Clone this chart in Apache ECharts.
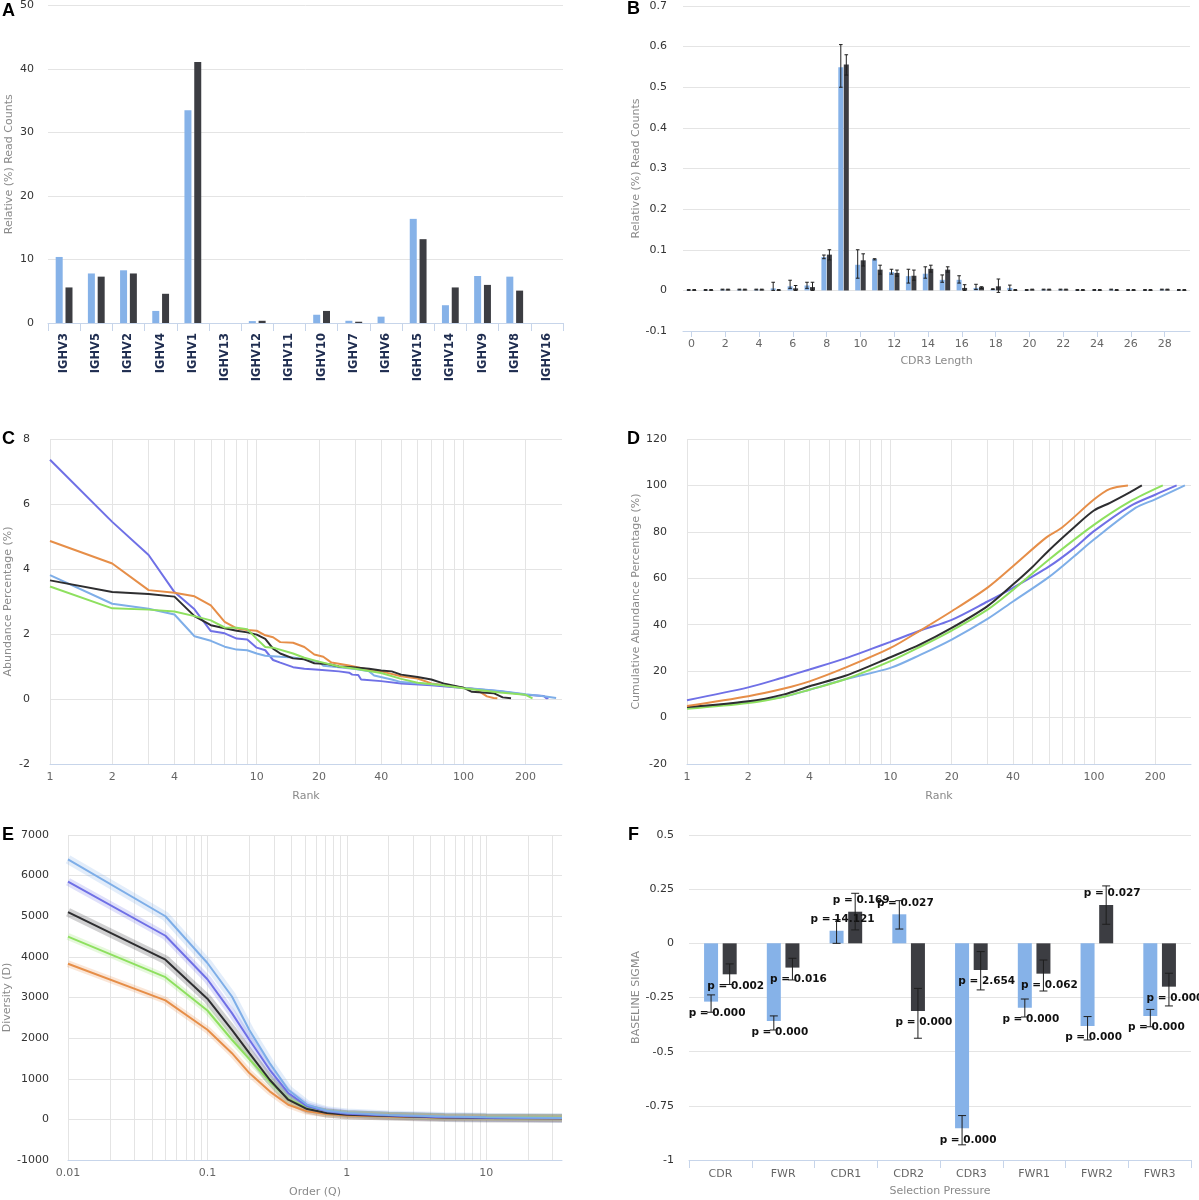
<!DOCTYPE html>
<html>
<head>
<meta charset="utf-8">
<title>Repertoire panels</title>
<script src="https://cdn.jsdelivr.net/npm/echarts@6/dist/echarts.min.js"></script>
<style>html,body{margin:0;padding:0;background:#fff}</style>
</head>
<body>
<div id="main" style="width:1199px;height:1200px;"></div>
<script>
var FONT = '"DejaVu Sans", sans-serif';
var BLUE = '#86b2e8', DARK = '#3c3d42';
var VIOLET = '#6f70e6', ORANGE = '#e68e48', LBLUE = '#7eaee8', BLACK = '#2e2e30', GREEN = '#8ee05f';
var AXIS_BLUE = '#c7d5ea', GRID = '#e4e4e4';

// ---- A: IGHV usage
var genesA = ['IGHV3', 'IGHV5', 'IGHV2', 'IGHV4', 'IGHV1', 'IGHV13', 'IGHV12', 'IGHV11',
    'IGHV10', 'IGHV7', 'IGHV6', 'IGHV15', 'IGHV14', 'IGHV9', 'IGHV8', 'IGHV16'];
var blueA = [10.4, 7.8, 8.3, 1.9, 33.5, 0, 0.3, 0, 1.3, 0.35, 1.0, 16.4, 2.8, 7.4, 7.3, 0];
var darkA = [5.6, 7.3, 7.8, 4.6, 41.1, 0, 0.35, 0, 1.9, 0.2, 0, 13.2, 5.6, 6.0, 5.1, 0];

// ---- B: CDR3 length
var lengthsB = ['0', '1', '2', '3', '4', '5', '6', '7', '8', '9', '10', '11', '12', '13', '14',
    '15', '16', '17', '18', '19', '20', '21', '22', '23', '24', '25', '26', '27', '28', '29'];
var blueB = [0.001, 0.001, 0.002, 0.002, 0.002, 0.005, 0.010, 0.012, 0.082, 0.549, 0.063, 0.077, 0.045, 0.035, 0.041,
    0.026, 0.026, 0.006, 0.003, 0.006, 0.001, 0.002, 0.002, 0.001, 0.001, 0.002, 0.001, 0.001, 0.002, 0.001];
var blueBLow = [0, 0, 0.001, 0.001, 0.001, 0.000, 0.005, 0.005, 0.078, 0.500, 0.030, 0.075, 0.040, 0.018, 0.030,
    0.020, 0.018, 0.002, 0.002, 0.000, 0, 0.001, 0.001, 0, 0, 0.001, 0, 0, 0.001, 0];
var blueBHigh = [0.002, 0.002, 0.003, 0.003, 0.003, 0.020, 0.025, 0.020, 0.087, 0.605, 0.100, 0.078, 0.052, 0.052, 0.058,
    0.038, 0.036, 0.015, 0.004, 0.013, 0.002, 0.003, 0.003, 0.002, 0.002, 0.003, 0.002, 0.002, 0.003, 0.002];
var darkB = [0.001, 0.001, 0.002, 0.002, 0.002, 0.001, 0.005, 0.008, 0.088, 0.556, 0.074, 0.051, 0.043, 0.036, 0.053,
    0.051, 0.006, 0.008, 0.010, 0.001, 0.002, 0.002, 0.002, 0.001, 0.001, 0.001, 0.001, 0.001, 0.002, 0.001];
var darkBLow = [0, 0, 0.001, 0.001, 0.001, 0, 0, 0, 0.075, 0.530, 0.060, 0.040, 0.035, 0.025, 0.045,
    0.045, 0, 0.005, -0.005, 0, 0.001, 0.001, 0.001, 0, 0, 0, 0, 0, 0.001, 0];
var darkBHigh = [0.002, 0.002, 0.003, 0.003, 0.003, 0.002, 0.012, 0.020, 0.100, 0.580, 0.090, 0.062, 0.050, 0.050, 0.062,
    0.058, 0.014, 0.009, 0.028, 0.002, 0.003, 0.003, 0.003, 0.002, 0.002, 0.002, 0.002, 0.002, 0.003, 0.002];

// ---- C: abundance by rank  [rank, %]
var violetC = [[1, 7.36], [2, 5.45], [3, 4.43], [4, 3.29], [5, 2.76], [6, 2.09], [7, 2.02], [8, 1.86], [9, 1.83], [10, 1.58],
    [11, 1.5], [12, 1.2], [13, 1.12], [15, 0.98], [17, 0.93], [20, 0.9], [25, 0.85], [28, 0.81], [29, 0.75], [31, 0.74],
    [32, 0.6], [40, 0.55], [50, 0.48], [70, 0.42], [100, 0.34], [150, 0.24], [200, 0.13], [245, 0.09], [252, 0.02], [258, 0.03]];
var orangeC = [[1, 4.86], [2, 4.17], [3, 3.35], [4, 3.27], [5, 3.16], [6, 2.88], [7, 2.37], [8, 2.17], [9, 2.12], [10, 2.1],
    [11, 1.96], [12, 1.9], [13, 1.75], [15, 1.73], [17, 1.6], [19, 1.37], [21, 1.3], [23, 1.12], [28, 1.03], [35, 0.9],
    [40, 0.85], [50, 0.7], [60, 0.63], [70, 0.48], [100, 0.35], [115, 0.3], [130, 0.08], [140, 0.03], [146, 0.02]];
var lblueC = [[1, 3.81], [2, 2.93], [3, 2.78], [4, 2.6], [5, 1.93], [6, 1.79], [7, 1.61], [8, 1.52], [9, 1.5], [10, 1.4],
    [11, 1.33], [13, 1.3], [15, 1.28], [20, 1.15], [21, 1.02], [25, 0.98], [30, 0.92], [35, 0.85], [37, 0.72], [45, 0.6],
    [50, 0.52], [80, 0.42], [100, 0.35], [150, 0.25], [200, 0.15], [250, 0.08], [281, 0.03]];
var blackC = [[1, 3.65], [2, 3.29], [3, 3.23], [4, 3.15], [5, 2.55], [6, 2.27], [7, 2.18], [8, 2.1], [9, 2.05], [10, 1.98],
    [11, 1.85], [12, 1.55], [13, 1.4], [15, 1.25], [17, 1.22], [19, 1.1], [22, 1.08], [25, 1.0], [30, 0.97], [35, 0.93],
    [40, 0.88], [45, 0.85], [50, 0.75], [60, 0.68], [70, 0.6], [80, 0.48], [100, 0.35], [110, 0.22], [140, 0.18], [155, 0.05], [170, 0.02]];
var greenC = [[1, 3.46], [2, 2.79], [3, 2.75], [4, 2.69], [5, 2.55], [6, 2.42], [7, 2.2], [8, 2.19], [9, 2.15], [10, 1.85],
    [11, 1.6], [12, 1.58], [15, 1.4], [17, 1.27], [20, 1.15], [25, 1.0], [30, 0.93], [40, 0.8], [50, 0.62], [60, 0.5],
    [80, 0.42], [100, 0.33], [150, 0.2], [200, 0.13], [216, 0.02]];

// ---- D: cumulative abundance  [rank, %]
var violetD = [[1, 7.5], [2, 13], [3, 17.4], [4, 20.7], [6, 25.5], [8, 29.5], [10, 32.6], [14, 37.5], [20, 42.1], [30, 50],
    [40, 55.9], [60, 65], [80, 73], [100, 80.3], [150, 91], [200, 96], [255, 100]];
var lblueD = [[1, 4], [2, 6.8], [3, 9], [4, 12], [6, 16.5], [10, 21.4], [14, 27], [20, 33.6], [30, 42.5], [40, 50],
    [60, 60.5], [80, 69.5], [100, 76.7], [160, 90.3], [200, 94], [280, 100]];
var blackD = [[1, 4.5], [2, 7], [3, 10], [4, 13.5], [6, 18], [10, 26], [14, 31.5], [20, 38.6], [30, 48], [40, 57.3],
    [50, 65], [60, 72], [80, 82], [100, 89.2], [120, 92.5], [150, 97], [172, 100]];
var orangeD = [[1, 5], [2, 9.2], [3, 12.5], [4, 15.6], [6, 21.5], [10, 30], [14, 37.5], [20, 45.8], [30, 56], [40, 65.2],
    [58, 77.4], [70, 82], [100, 93.9], [120, 98.5], [147, 100]];
var greenD = [[1, 3.8], [2, 6.3], [3, 9], [4, 12], [6, 16.5], [10, 24.3], [14, 30.5], [20, 37.5], [30, 46.5], [40, 55],
    [60, 68], [100, 83], [150, 93], [218, 100]];
var rankGrid = [1, 2, 3, 4, 5, 6, 7, 8, 9, 10, 20, 30, 40, 50, 60, 70, 80, 90, 100, 200];
var rankLabels = ['1', '2', '', '4', '', '', '', '', '', '10', '20', '', '40', '', '', '', '', '', '100', '200'];

// ---- E: diversity profile
var orderE = [0.01, 0.05, 0.1, 0.15, 0.2, 0.28, 0.38, 0.52, 0.72, 1, 2, 5, 10, 35];
var lblueE = [6400, 5000, 3850, 3025, 2200, 1385, 730, 360, 213, 160, 110, 70, 50, 35];
var violetE = [5850, 4520, 3450, 2615, 1960, 1220, 650, 320, 197, 140, 95, 55, 40, 28];
var blackE = [5100, 3930, 2970, 2205, 1630, 975, 484, 254, 156, 115, 80, 45, 35, 25];
var greenE = [4500, 3500, 2680, 1960, 1484, 934, 500, 280, 172, 131, 95, 60, 50, 40];
var orangeE = [3830, 2930, 2205, 1630, 1140, 690, 360, 197, 131, 98, 70, 45, 38, 30];
var orderGrid = [0.01, 0.02, 0.03, 0.04, 0.05, 0.06, 0.07, 0.08, 0.09, 0.1, 0.2, 0.3, 0.4, 0.5, 0.6, 0.7, 0.8, 0.9,
    1, 2, 3, 4, 5, 6, 7, 8, 9, 10, 20, 30];
var orderLabels = ['0.01', '', '', '', '', '', '', '', '', '0.1', '', '', '', '', '', '', '', '',
    '1', '', '', '', '', '', '', '', '', '10', '', ''];

// ---- F: selection pressure
var regionsF = ['CDR', 'FWR', 'CDR1', 'CDR2', 'CDR3', 'FWR1', 'FWR2', 'FWR3'];
var blueF = [-0.269, -0.358, 0.058, 0.134, -0.854, -0.297, -0.381, -0.335];
var blueFLow = [-0.318, -0.400, 0.000, 0.066, -0.930, -0.340, -0.446, -0.385];
var blueFHigh = [-0.238, -0.335, 0.110, 0.197, -0.795, -0.257, -0.338, -0.305];
var darkF = [-0.143, -0.112, 0.146, -0.312, -0.123, -0.140, 0.177, -0.200];
var darkFLow = [-0.190, -0.169, 0.062, -0.438, -0.215, -0.220, 0.088, -0.289];
var darkFHigh = [-0.095, -0.069, 0.231, -0.208, -0.038, -0.077, 0.265, -0.138];
var pBlueF = ['p = 0.000', 'p = 0.000', 'p = 14.121', 'p = 0.027', 'p = 0.000', 'p = 0.000', 'p = 0.000', 'p = 0.000'];
var pDarkF = ['p = 0.002', 'p = 0.016', 'p = 0.169', 'p = 0.000', 'p = 2.654', 'p = 0.062', 'p = 0.027', 'p = 0.000'];

function yValue(grid, min, max, step, name, gap, margin) {
    return {
        gridIndex: grid, type: 'value', min: min, max: max, interval: step,
        axisLine: {show: false}, axisTick: {show: false},
        splitLine: {lineStyle: {color: GRID, width: 1}},
        axisLabel: {color: '#333', fontSize: 11, fontFamily: FONT, margin: margin,
            formatter: function (v) { return String(v); }},
        name: name, nameLocation: 'middle', nameGap: gap,
        nameTextStyle: {color: '#8a8a8a', fontSize: 11, fontFamily: FONT}
    };
}

function xLog(grid, min, max, name) {
    return {
        gridIndex: grid, type: 'log', logBase: 10, min: min, max: max,
        axisLine: {onZero: false, lineStyle: {color: AXIS_BLUE}},
        axisTick: {show: false}, axisLabel: {show: false}, splitLine: {show: false},
        name: name, nameLocation: 'middle', nameGap: 27,
        nameTextStyle: {color: '#8a8a8a', fontSize: 11, fontFamily: FONT}
    };
}

function vGrid(values, labels) {
    return {
        silent: true, z: 1, animation: false, symbol: ['none', 'none'],
        lineStyle: {color: GRID, width: 1, type: 'solid'},
        emphasis: {disabled: true},
        data: values.map(function (v, i) {
            return {
                xAxis: v,
                label: {show: labels[i] !== '', position: 'start', formatter: labels[i], distance: 8,
                    color: '#666', fontSize: 11, fontFamily: FONT}
            };
        })
    };
}

function line(grid, color, data, extra) {
    var s = {
        type: 'line', xAxisIndex: grid, yAxisIndex: grid, data: data, showSymbol: false, z: 3,
        lineStyle: {color: color, width: 2}, itemStyle: {color: color}, silent: true
    };
    for (var k in extra) s[k] = extra[k];
    return s;
}

function pairs(xs, ys) {
    return xs.map(function (x, i) { return [x, ys[i]]; });
}

function errData(low, high) {
    return low.map(function (l, i) { return [i, l, high[i]]; });
}

function errBars(grid, low, high, offset, cap) {
    return {
        type: 'custom', xAxisIndex: grid, yAxisIndex: grid, z: 4, silent: true,
        data: errData(low, high), encode: {x: 0, y: [1, 2]},
        renderItem: function (params, api) {
            var c = api.value(0);
            var lo = api.coord([c, api.value(1)]);
            var hi = api.coord([c, api.value(2)]);
            var x = lo[0] + offset;
            var st = {stroke: '#1e1e1e', lineWidth: 1};
            return {
                type: 'group', children: [
                    {type: 'line', shape: {x1: x, y1: lo[1], x2: x, y2: hi[1]}, style: st},
                    {type: 'line', shape: {x1: x - cap, y1: lo[1], x2: x + cap, y2: lo[1]}, style: st},
                    {type: 'line', shape: {x1: x - cap, y1: hi[1], x2: x + cap, y2: hi[1]}, style: st}
                ]
            };
        }
    };
}

function pBars(values, texts) {
    return values.map(function (v, i) {
        return {value: v, label: {position: v < 0 ? 'bottom' : 'top', formatter: texts[i]}};
    });
}

function letter(t, x, y) {
    return {type: 'text', x: x, y: y, silent: true,
        style: {text: t, font: 'bold 18px "Liberation Sans", Arial, sans-serif', fill: '#000', verticalAlign: 'middle'}};
}

var catAxisStyle = {
    axisLine: {onZero: false, lineStyle: {color: AXIS_BLUE}},
    axisTick: {show: true, length: 8, lineStyle: {color: AXIS_BLUE}}
};

// bar geometry (px) used to place the whiskers over the grouped bars
var wB = 5, gapB = 0.1, wF = 14, gapF = 0.33;
var offB = (wB + gapB * wB) / 2, offF = (wF + gapF * wF) / 2;

var chart = echarts.init(document.getElementById('main'), null, {renderer: 'canvas'});
var option = {
    animation: false,
    backgroundColor: '#fff',
    textStyle: {fontFamily: FONT},
    grid: [
        {left: 48, top: 5, right: 636, bottom: 877},
        {left: 683, top: 6, right: 9, bottom: 869},
        {left: 50, top: 439, right: 637, bottom: 436},
        {left: 687, top: 439, right: 8, bottom: 436},
        {left: 68, top: 835, right: 637, bottom: 40},
        {left: 689, top: 835, right: 8, bottom: 40}
    ],
    xAxis: [
        {gridIndex: 0, type: 'category', data: genesA,
            axisLine: catAxisStyle.axisLine, axisTick: catAxisStyle.axisTick,
            axisLabel: {rotate: 90, interval: 0, margin: 10, color: '#1f2d50', fontWeight: 'bold',
                fontSize: 11.5, fontFamily: FONT}},
        {gridIndex: 1, type: 'category', data: lengthsB,
            axisLine: catAxisStyle.axisLine,
            axisTick: {show: true, interval: 1, alignWithLabel: true, length: 6, lineStyle: {color: AXIS_BLUE}},
            axisLabel: {interval: 1, margin: 8, color: '#666', fontSize: 11, fontFamily: FONT},
            name: 'CDR3 Length', nameLocation: 'middle', nameGap: 25,
            nameTextStyle: {color: '#8a8a8a', fontSize: 11, fontFamily: FONT}},
        xLog(2, 1, 300, 'Rank'),
        xLog(3, 1, 300, 'Rank'),
        xLog(4, 0.01, 35, 'Order (Q)'),
        {gridIndex: 5, type: 'category', data: regionsF,
            axisLine: catAxisStyle.axisLine, axisTick: catAxisStyle.axisTick,
            axisLabel: {interval: 0, margin: 9, color: '#666', fontSize: 11, fontFamily: FONT},
            name: 'Selection Pressure', nameLocation: 'middle', nameGap: 26,
            nameTextStyle: {color: '#8a8a8a', fontSize: 11, fontFamily: FONT}}
    ],
    yAxis: [
        yValue(0, 0, 50, 10, 'Relative (%) Read Counts', 33, 14),
        yValue(1, -0.1, 0.7, 0.1, 'Relative (%) Read Counts', 41, 16),
        yValue(2, -2, 8, 2, 'Abundance Percentage (%)', 36, 20),
        yValue(3, -20, 120, 20, 'Cumulative Abundance Percentage (%)', 45, 20),
        yValue(4, -1000, 7000, 1000, 'Diversity (D)', 54, 19),
        yValue(5, -1, 0.5, 0.25, 'BASELINE SIGMA', 47, 15)
    ],
    graphic: [
        letter('A', 2, 11), letter('B', 627, 9), letter('C', 2, 439),
        letter('D', 627, 439), letter('E', 2, 835), letter('F', 628, 835)
    ],
    series: [
        // A
        {type: 'bar', xAxisIndex: 0, yAxisIndex: 0, data: blueA, barWidth: 7, barGap: '40%',
            itemStyle: {color: BLUE}, silent: true},
        {type: 'bar', xAxisIndex: 0, yAxisIndex: 0, data: darkA, barWidth: 7, barGap: '40%',
            itemStyle: {color: DARK}, silent: true},
        // B
        {type: 'bar', xAxisIndex: 1, yAxisIndex: 1, data: blueB, barWidth: wB, barGap: (gapB * 100) + '%',
            itemStyle: {color: BLUE}, silent: true},
        {type: 'bar', xAxisIndex: 1, yAxisIndex: 1, data: darkB, barWidth: wB, barGap: (gapB * 100) + '%',
            itemStyle: {color: DARK}, silent: true},
        errBars(1, blueBLow, blueBHigh, -offB, 1.8),
        errBars(1, darkBLow, darkBHigh, offB, 1.8),
        // C
        line(2, VIOLET, violetC, {markLine: vGrid(rankGrid, rankLabels)}),
        line(2, ORANGE, orangeC),
        line(2, LBLUE, lblueC),
        line(2, BLACK, blackC),
        line(2, GREEN, greenC),
        // D
        line(3, LBLUE, lblueD, {smooth: 0.3, markLine: vGrid(rankGrid, rankLabels)}),
        line(3, VIOLET, violetD, {smooth: 0.3}),
        line(3, GREEN, greenD, {smooth: 0.3}),
        line(3, BLACK, blackD, {smooth: 0.3}),
        line(3, ORANGE, orangeD, {smooth: 0.3}),
        // E bands then lines
        line(4, LBLUE, pairs(orderE, lblueE), {z: 2, lineStyle: {color: LBLUE, width: 9, opacity: 0.22},
            markLine: vGrid(orderGrid, orderLabels)}),
        line(4, VIOLET, pairs(orderE, violetE), {z: 2, lineStyle: {color: VIOLET, width: 8, opacity: 0.22}}),
        line(4, BLACK, pairs(orderE, blackE), {z: 2, lineStyle: {color: BLACK, width: 9, opacity: 0.22}}),
        line(4, GREEN, pairs(orderE, greenE), {z: 2, lineStyle: {color: GREEN, width: 7, opacity: 0.22}}),
        line(4, ORANGE, pairs(orderE, orangeE), {z: 2, lineStyle: {color: ORANGE, width: 7, opacity: 0.22}}),
        line(4, ORANGE, pairs(orderE, orangeE)),
        line(4, GREEN, pairs(orderE, greenE)),
        line(4, BLACK, pairs(orderE, blackE)),
        line(4, VIOLET, pairs(orderE, violetE)),
        line(4, LBLUE, pairs(orderE, lblueE)),
        // F
        {type: 'bar', xAxisIndex: 5, yAxisIndex: 5, data: pBars(blueF, pBlueF), barWidth: wF,
            barGap: (gapF * 100) + '%', itemStyle: {color: BLUE}, silent: true,
            label: {show: true, distance: 6, offset: [6, 0], color: '#111', fontWeight: 'bold',
                fontSize: 10.5, fontFamily: FONT}},
        {type: 'bar', xAxisIndex: 5, yAxisIndex: 5, data: pBars(darkF, pDarkF), barWidth: wF,
            barGap: (gapF * 100) + '%', itemStyle: {color: DARK}, silent: true,
            label: {show: true, distance: 6, offset: [6, 0], color: '#111', fontWeight: 'bold',
                fontSize: 10.5, fontFamily: FONT}},
        errBars(5, blueFLow, blueFHigh, -offF, 4),
        errBars(5, darkFLow, darkFHigh, offF, 4)
    ]
};
chart.setOption(option);
</script>
</body>
</html>
